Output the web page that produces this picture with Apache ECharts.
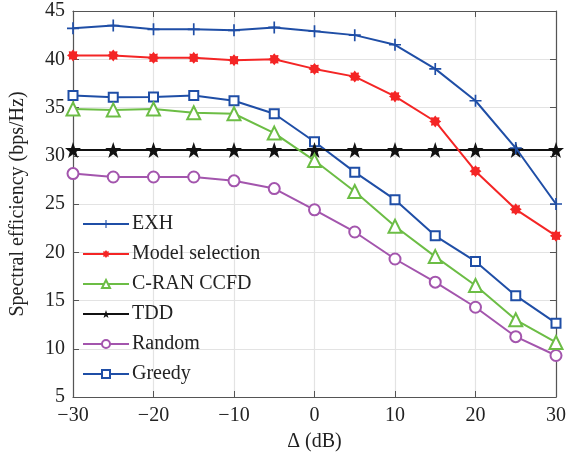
<!DOCTYPE html>
<html><head><meta charset="utf-8">
<script src="https://cdn.jsdelivr.net/npm/echarts@6/dist/echarts.min.js"></script>
<style>html,body{margin:0;padding:0;background:#fff}#c{width:569px;height:463px}</style>
</head><body><div id="c"></div>
<script>
const deltaDB = [-30,-25,-20,-15,-10,-5,0,5,10,15,20,25,30];
const exh      = [43.2,43.5,43.1,43.1,43.0,43.3,42.9,42.5,41.5,39.0,35.7,30.8,25.0];
const modelSel = [40.4,40.4,40.15,40.15,39.9,40.0,39.0,38.2,36.15,33.55,28.4,24.45,21.7];
const cran     = [34.85,34.75,34.85,34.45,34.35,32.35,29.5,26.3,22.7,19.55,16.55,13.0,10.65];
const tdd      = [30.6,30.6,30.6,30.6,30.6,30.6,30.6,30.6,30.6,30.6,30.6,30.6,30.6];
const randomS  = [28.15,27.8,27.8,27.8,27.4,26.6,24.4,22.1,19.3,16.9,14.3,11.25,9.3];
const greedy   = [36.25,36.05,36.1,36.25,35.7,34.35,31.45,28.3,25.45,21.7,19.05,15.5,12.65];
const seriesNames = ['EXH','Model selection','C-RAN CCFD','TDD','Random','Greedy'];
const yTicks = {min:5,max:45,interval:5};
const xTicks = {min:-30,max:30,interval:10};

function starPath(n, r1, r2){
  let s='path://';
  for(let i=0;i<2*n;i++){
    const r = i%2===0? r1 : r2;
    const a = -Math.PI/2 + i*Math.PI/n;
    const x = 10 + r*Math.cos(a), y = 10 + r*Math.sin(a);
    s += (i===0?'M':'L') + x.toFixed(3)+','+y.toFixed(3);
  }
  return s+'Z';
}
const plusPath = 'path://M4.3,0H5.7V10H4.3ZM0,4.3H10V5.7H0Z';
const FONT = 'Liberation Serif';
const pair = arr => deltaDB.map((x,i)=>[x,arr[i]]);

const colors = ['#1f4ea6','#f42525','#6cbd45','#111111','#a355ad','#1f4ea6'];
const defs = [
  {data:exh, symbol:plusPath, size:12},
  {data:modelSel, symbol:starPath(8,10,7), size:12},
  {data:cran, symbol:'emptyTriangle', size:13},
  {data:tdd, symbol:starPath(5,10,4), size:16},
  {data:randomS, symbol:'emptyCircle', size:11},
  {data:greedy, symbol:'emptyRect', size:9},
];
const series = defs.map((d,i)=>({
  name: seriesNames[i], type:'line', data: pair(d.data),
  symbol: d.symbol, symbolSize: d.size, showAllSymbol:true,
  color: colors[i],
  lineStyle:{width:2, color:colors[i]},
  itemStyle:{color: colors[i], borderWidth: (d.symbol.indexOf('empty')===0)?1.8:0},
  z: 10-i, animation:false
}));

const axisCol = '#555';
const chart = echarts.init(document.getElementById('c'), null, {renderer:'canvas'});
chart.setOption({
  animation:false,
  backgroundColor:'#fff',
  grid:{left:68,right:9,top:11,bottom:66,containLabel:false},
  legend:{
    orient:'vertical', left:77, top:209, itemWidth:46, itemHeight:10, itemGap:10,
    textStyle:{fontFamily:FONT,fontSize:20,color:'#222',padding:[0,0,0,-2]},
    data: seriesNames, backgroundColor:'rgba(255,255,255,0)'
  },
  xAxis:[{
    type:'value', min:xTicks.min, max:xTicks.max, interval:xTicks.interval,
    name:'Δ (dB)', nameLocation:'middle', nameGap:35,
    nameTextStyle:{fontFamily:FONT,fontSize:20,color:'#222'},
    axisLine:{onZero:false,lineStyle:{color:axisCol,width:1.2}},
    axisTick:{inside:true,length:6,lineStyle:{color:axisCol}},
    axisLabel:{fontFamily:FONT,fontSize:20,color:'#222',margin:9,formatter:v=>v<0?'\u2212'+Math.abs(v):String(v)},
    splitLine:{show:true,lineStyle:{color:'#e3e3e3',width:1.2}}
  },{
    type:'value', position:'top', min:xTicks.min, max:xTicks.max, interval:xTicks.interval,
    axisLine:{onZero:false,lineStyle:{color:axisCol,width:1.2}},
    axisTick:{inside:true,length:6,lineStyle:{color:axisCol}},
    axisLabel:{show:false}, splitLine:{show:false}
  }],
  yAxis:[{
    type:'value', min:yTicks.min, max:yTicks.max, interval:yTicks.interval,
    name:'Spectral efficiency (bps/Hz)', nameLocation:'middle', nameGap:45,
    nameTextStyle:{fontFamily:FONT,fontSize:20,color:'#222'},
    axisLine:{onZero:false,lineStyle:{color:axisCol,width:1.2}},
    axisTick:{inside:true,length:6,lineStyle:{color:axisCol}},
    axisLabel:{fontFamily:FONT,fontSize:20,color:'#222',margin:8},
    splitLine:{show:true,lineStyle:{color:'#e3e3e3',width:1.2}}
  },{
    type:'value', position:'right', min:yTicks.min, max:yTicks.max, interval:yTicks.interval,
    axisLine:{onZero:false,lineStyle:{color:axisCol,width:1.2}},
    axisTick:{inside:true,length:6,lineStyle:{color:axisCol}},
    axisLabel:{show:false}, splitLine:{show:false}
  }],
  series: series
});
</script></body></html>
